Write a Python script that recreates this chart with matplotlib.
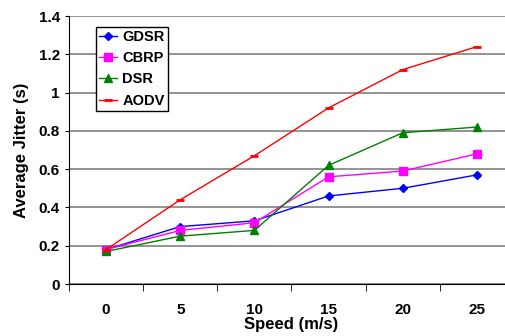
import matplotlib.pyplot as plt
import numpy as np

plt.rcParams['font.family'] = ['Liberation Sans', 'DejaVu Sans']
plt.rcParams['font.weight'] = 'bold'

speeds = [0, 5, 10, 15, 20, 25]
gdsr = [0.18, 0.30, 0.33, 0.46, 0.50, 0.57]
cbrp = [0.18, 0.28, 0.32, 0.56, 0.59, 0.68]
dsr = [0.17, 0.25, 0.28, 0.62, 0.79, 0.82]
aodv = [0.18, 0.44, 0.67, 0.92, 1.12, 1.24]

fig = plt.figure(figsize=(5.05, 3.36), dpi=100)
# plot area runs past the right edge, as in the original
ax = fig.add_axes([69 / 505, 1 - 284 / 336, 445 / 505, 268 / 336])

x = np.arange(len(speeds))
ax.plot(x, gdsr, color='#0000ff', marker='D', markersize=4, lw=1, label='GDSR')
ax.plot(x, cbrp, color='#ff00ff', marker='s', markersize=6, lw=1, label='CBRP')
ax.plot(x, dsr, color='#008000', marker='^', markersize=6, lw=1, label='DSR')
ax.plot(x, aodv, color='#ff0000', marker='_', markersize=6, mew=2, lw=1, label='AODV')

ax.set_xlim(-0.5, len(speeds) - 0.5)
ax.set_ylim(0, 1.4)
ax.set_yticks(np.arange(0, 1.41, 0.2))
ax.set_yticklabels(['0', '0.2', '0.4', '0.6', '0.8', '1', '1.2', '1.4'])
ax.set_xticks(x)
ax.set_xticklabels([str(s) for s in speeds])
ax.set_xticks(np.arange(-0.5, len(speeds) + 0.5), minor=True)
ax.tick_params(axis='x', which='major', length=0, pad=14, labelsize=11)
ax.tick_params(axis='x', which='minor', length=5, direction='out')
ax.tick_params(axis='y', length=3, labelsize=11)

ax.grid(axis='y', color='#808080', lw=1.2)
ax.set_axisbelow(True)
for s in ['top', 'right']:
    ax.spines[s].set_visible(False)

ax.set_xlabel('Speed (m/s)', fontsize=12, fontweight='bold', labelpad=0)
ax.set_ylabel('Average Jitter (s)', fontsize=12, fontweight='bold', labelpad=7)

leg = ax.legend(loc='upper left', bbox_to_anchor=(0.061, 0.959), borderaxespad=0,
                fancybox=False, edgecolor='black', framealpha=1, fontsize=10.5,
                handlelength=1.25, borderpad=0.2, labelspacing=0.5,
                handletextpad=0.35)
leg.get_frame().set_linewidth(1)

fig.savefig('out.png', dpi=100)
